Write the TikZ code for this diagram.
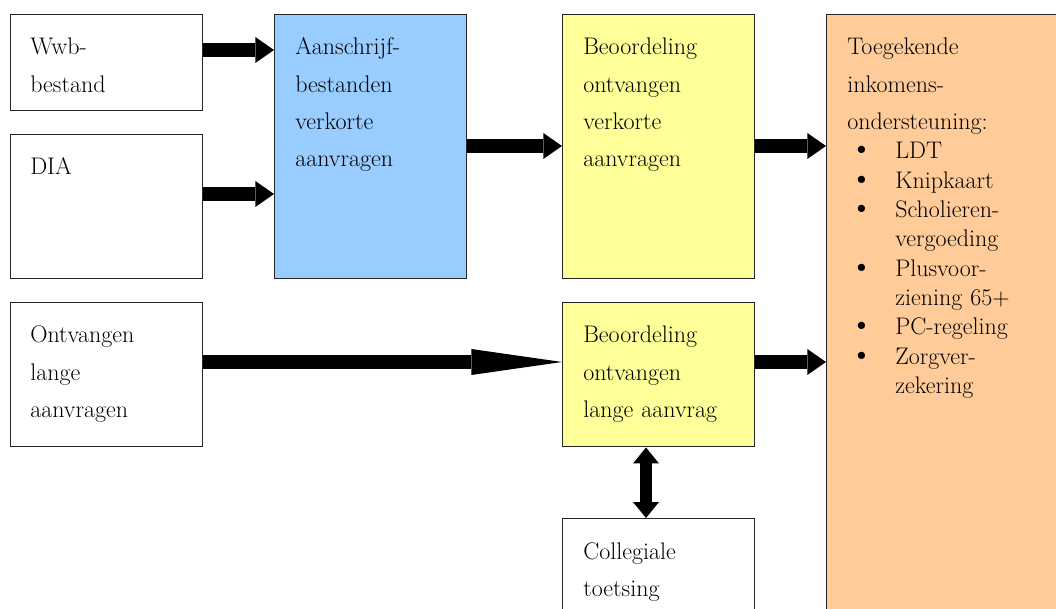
\documentclass[tikz,border=0pt]{standalone}
\usepackage{fontspec}
\usepackage{graphicx}
\usetikzlibrary{arrows.meta}
\definecolor{boxblue}{HTML}{99CCFF}
\definecolor{boxyellow}{HTML}{FFFF99}
\definecolor{boxorange}{HTML}{FFCC99}
\newcommand{\itembul}{\makebox[36pt][l]{\hspace{2pt}\scalebox{1.35}{\textbullet}}}

\begin{document}
\begin{tikzpicture}[x=0.75pt, y=-0.75pt,
  box/.style={draw=black!85, line width=1.1pt, anchor=north west, inner sep=0pt, minimum width=144pt},
  txt/.style={anchor=base west, text width=140pt, align=left, inner sep=0pt, font=\fontsize{18pt}{28pt}\selectfont},
  blk/.style={line width=10pt, -{Triangle[length=14pt,width=19.5pt,line width=0pt]}}]
\useasboundingbox (0,0) rectangle (1056,609);
\clip (0,0) rectangle (1056,609);

\node [box, minimum height=72pt] (wwb) at (10,14) {};
\node [box, minimum height=108pt] (dia) at (10,134) {};
\node [box, minimum height=108pt] (ontv) at (10,302) {};
\node [box, fill=boxblue, minimum height=198pt] (aan) at (274,14) {};
\node [box, fill=boxyellow, minimum height=198pt] (verk) at (562,14) {};
\node [box, fill=boxyellow, minimum height=108pt] (lang) at (562,302) {};
\node [box, minimum height=80pt] (coll) at (562,518) {};
\node [box, fill=boxorange, minimum width=190pt, minimum height=460pt] (toe) at (826,14) {};

\node [txt] (wwbtxt) at ([shift={(20,41)}]wwb.north west) {Wwb-\\bestand};
\node [txt] (diatxt) at ([shift={(20,41)}]dia.north west) {DIA};
\node [txt] (ontvtxt) at ([shift={(20,41)}]ontv.north west) {Ontvangen\\lange\\aanvragen};
\node [txt] (aantxt) at ([shift={(21,41)}]aan.north west) {Aanschrijf-\\bestanden\\verkorte\\aanvragen};
\node [txt] (verktxt) at ([shift={(21,41)}]verk.north west) {Beoordeling\\ontvangen\\verkorte\\aanvragen};
\node [txt] (langtxt) at ([shift={(21,41)}]lang.north west) {Beoordeling\\ontvangen\\lange aanvrag};
\node [txt] (colltxt) at ([shift={(21,41)}]coll.north west) {Collegiale\\toetsing};
\node [txt, text width=180pt] (toetxt) at ([shift={(21,41)}]toe.north west) {Toegekende\\inkomens-\\ondersteuning:\\[-6pt]
\itembul LDT\\[-6pt]
\itembul Knipkaart\\[-6pt]
\itembul Scholieren-\\[-6pt]
\hspace*{36pt}vergoeding\\[-6pt]
\itembul Plusvoor-\\[-6pt]
\hspace*{36pt}ziening 65+\\[-6pt]
\itembul PC-regeling\\[-6pt]
\itembul Zorgver-\\[-6pt]
\hspace*{36pt}zekering};

\draw [blk] (wwb.east |- 0,50) -- (aan.west |- 0,50);
\draw [blk] (dia.east |- 0,194) -- (aan.west |- 0,194);
\draw [blk] (aan.east |- 0,146) -- (verk.west |- 0,146);
\draw [blk] (verk.east |- 0,146) -- (toe.west |- 0,146);
\draw [blk, -{Triangle[length=68pt,width=19.5pt,line width=0pt]}] (ontv.east |- 0,362) -- (lang.west |- 0,362);
\draw [blk] (lang.east |- 0,362) -- (toe.west |- 0,362);
\draw [blk, line width=9pt, {Triangle[length=12pt,width=19.5pt,line width=0pt]}-{Triangle[length=12pt,width=19.5pt,line width=0pt]}] (lang.south -| 646,0) -- (coll.north -| 646,0);
\end{tikzpicture}
\end{document}
